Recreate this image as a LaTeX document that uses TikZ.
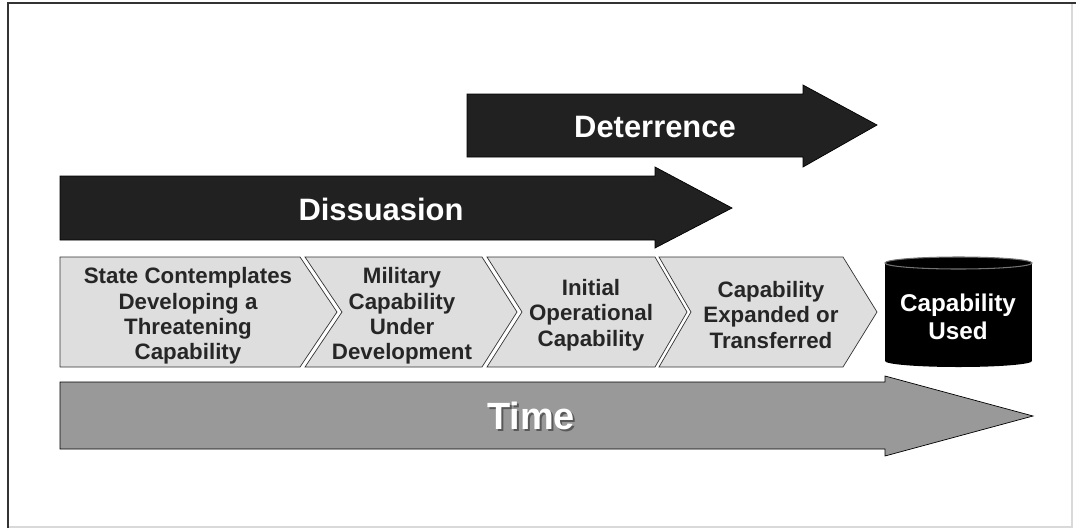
\documentclass[tikz,border=0pt]{standalone}
\usepackage{fontspec}
\setmainfont{Liberation Sans}
\usepackage{xcolor}
\usepackage{tikz}

\definecolor{stepgray}{gray}{0.87}
\definecolor{timegray}{gray}{0.6}
\definecolor{bandblack}{gray}{0.13}
\definecolor{edgegray}{gray}{0.2}

\tikzset{
  steptext/.style={font=\bfseries\fontsize{12.7}{14.4}\selectfont, align=center, text=black!85, inner sep=0pt},
  bandtext/.style={font=\bfseries\fontsize{17.6}{20}\selectfont, text=white, inner sep=0pt},
  usedtext/.style={font=\bfseries\fontsize{13.8}{15.9}\selectfont, align=center, text=white, inner sep=0pt},
  timetext/.style={font=\bfseries\fontsize{21.6}{24}\selectfont, inner sep=0pt}
}

\begin{document}
\begin{tikzpicture}[x=0.02cm, y=-0.02cm]
\useasboundingbox (0,0) rectangle (1076,528);

% frame
\draw[black!15, line width=0.8pt] (1072,3) -- (1072,527) -- (8,527);
\draw[edgegray, line width=1.2pt] (8,528) -- (8,3) -- (1076,3);

% deterrence and dissuasion
\draw[fill=bandblack, draw=black] (467,94) -- (803,94) -- (803,85) -- (877,125) -- (803,167) -- (803,157) -- (467,157) -- cycle;
\draw[fill=bandblack, draw=black] (60,176) -- (655,176) -- (655,167) -- (732,208) -- (655,248) -- (655,240) -- (60,240) -- cycle;

\node[bandtext] (deter) at (655,127) {Deterrence};
\node[bandtext] (dissu) at (381,209) {Dissuasion};

% steps
\draw[fill=stepgray, draw=edgegray] (60,257) -- (300,257) -- (337,312) -- (300,367) -- (60,367) -- cycle;
\draw[fill=stepgray, draw=edgegray] (305,257) -- (482,257) -- (517,312) -- (482,367) -- (305,367) -- (342,312) -- cycle;
\draw[fill=stepgray, draw=edgegray] (487,257) -- (655,257) -- (687,312) -- (655,367) -- (487,367) -- (522,312) -- cycle;
\draw[fill=stepgray, draw=edgegray] (659,257) -- (843,257) -- (877,312) -- (843,367) -- (659,367) -- (691,312) -- cycle;

\node[steptext] (state) at (188,316) {State Contemplates\\Developing a\\Threatening\\Capability};
\node[steptext] (milit) at (402,316) {Military\\Capability\\Under\\Development};
\node[steptext] (initial) at (591,315) {Initial\\Operational\\Capability};
\node[steptext] (expand) at (771,315) {Capability\\Expanded or\\Transferred};

% capability used
\fill[black] (885,263) rectangle (1032,361);
\fill[black] (958.5,361) ellipse [x radius=73.5, y radius=6];
\draw[fill=black, draw=black!55, line width=0.6pt] (958.5,263) ellipse [x radius=73.5, y radius=6];
\node[usedtext] (used) at (958,317) {Capability\\Used};

% time
\draw[fill=timegray, draw=black] (60,382) -- (885,382) -- (885,376) -- (1033,416) -- (885,456) -- (885,449) -- (60,449) -- cycle;
\node[timetext, text=black!65] (timeshade) at (533,418) {Time};
\node[timetext, text=white] (time) at (531,416) {Time};
\end{tikzpicture}
\end{document}
